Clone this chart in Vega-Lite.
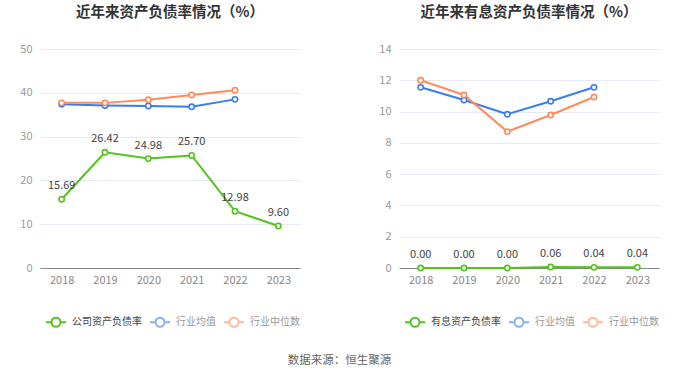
{
  "$schema": "https://vega.github.io/schema/vega-lite/v6.json",
  "padding": {"left": 19, "top": 4, "right": 5, "bottom": 5},
  "background": "white",
  "title": {"text": "数据来源：恒生聚源", "orient": "bottom", "anchor": "middle", "fontSize": 11.5, "fontWeight": "normal", "color": "#666", "font": "Noto Sans CJK SC", "offset": 24},
  "datasets": {
    "d": [
      {"panel": "A", "year": "2018", "series": "公司资产负债率", "value": 15.69},
      {"panel": "A", "year": "2019", "series": "公司资产负债率", "value": 26.42},
      {"panel": "A", "year": "2020", "series": "公司资产负债率", "value": 24.98},
      {"panel": "A", "year": "2021", "series": "公司资产负债率", "value": 25.70},
      {"panel": "A", "year": "2022", "series": "公司资产负债率", "value": 12.98},
      {"panel": "A", "year": "2023", "series": "公司资产负债率", "value": 9.60},
      {"panel": "A", "year": "2018", "series": "行业均值", "value": 37.4},
      {"panel": "A", "year": "2019", "series": "行业均值", "value": 37.1},
      {"panel": "A", "year": "2020", "series": "行业均值", "value": 37.0},
      {"panel": "A", "year": "2021", "series": "行业均值", "value": 36.8},
      {"panel": "A", "year": "2022", "series": "行业均值", "value": 38.5},
      {"panel": "A", "year": "2018", "series": "行业中位数", "value": 37.7},
      {"panel": "A", "year": "2019", "series": "行业中位数", "value": 37.7},
      {"panel": "A", "year": "2020", "series": "行业中位数", "value": 38.4},
      {"panel": "A", "year": "2021", "series": "行业中位数", "value": 39.5},
      {"panel": "A", "year": "2022", "series": "行业中位数", "value": 40.6},
      {"panel": "B", "year": "2018", "series": "有息资产负债率", "value": 0.00},
      {"panel": "B", "year": "2019", "series": "有息资产负债率", "value": 0.00},
      {"panel": "B", "year": "2020", "series": "有息资产负债率", "value": 0.00},
      {"panel": "B", "year": "2021", "series": "有息资产负债率", "value": 0.06},
      {"panel": "B", "year": "2022", "series": "有息资产负债率", "value": 0.04},
      {"panel": "B", "year": "2023", "series": "有息资产负债率", "value": 0.04},
      {"panel": "B", "year": "2018", "series": "行业均值", "value": 11.55},
      {"panel": "B", "year": "2019", "series": "行业均值", "value": 10.74},
      {"panel": "B", "year": "2020", "series": "行业均值", "value": 9.83},
      {"panel": "B", "year": "2021", "series": "行业均值", "value": 10.66},
      {"panel": "B", "year": "2022", "series": "行业均值", "value": 11.55},
      {"panel": "B", "year": "2018", "series": "行业中位数", "value": 12.0},
      {"panel": "B", "year": "2019", "series": "行业中位数", "value": 11.06},
      {"panel": "B", "year": "2020", "series": "行业中位数", "value": 8.72},
      {"panel": "B", "year": "2021", "series": "行业中位数", "value": 9.78},
      {"panel": "B", "year": "2022", "series": "行业中位数", "value": 10.93}
    ]
  },
  "spacing": 78,
  "resolve": {"scale": {"color": "independent", "y": "independent"}},
  "hconcat": [
    {
      "width": 260,
      "height": 219,
      "title": {"text": "近年来资产负债率情况（%）"},
      "data": {"name": "d"},
      "transform": [{"filter": "datum.panel === 'A'"}],
      "encoding": {
        "x": {"field": "year", "type": "ordinal", "title": null, "scale": {"padding": 0.5}, "axis": {"labelAngle": 0}},
        "y": {"field": "value", "type": "quantitative", "title": null, "scale": {"domain": [0, 50]}, "axis": {"values": [0, 10, 20, 30, 40, 50]}}
      },
      "layer": [
        {
          "mark": {"type": "line", "strokeWidth": 2, "point": {"filled": false, "fill": "white", "size": 28, "strokeWidth": 1.6, "opacity": 1}},
          "encoding": {
            "color": {"field": "series", "type": "nominal", "title": null,
              "scale": {"domain": ["公司资产负债率", "行业均值", "行业中位数"], "range": ["#52c41a", "#3a7cf2", "#ff8a5b"]},
              "legend": {"orient": "none", "legendX": 5, "legendY": 262, "direction": "horizontal",
                "encode": {"labels": {"update": {"fill": {"signal": "datum.index === 0 ? '#444' : '#999'"}}},
                           "symbols": {"update": {"opacity": {"signal": "datum.index === 0 ? 1 : 0.6"}}}}}}
          }
        },
        {
          "transform": [{"filter": "datum.series === '公司资产负债率'"}],
          "mark": {"type": "text", "dy": -13, "fontSize": 11, "color": "#444", "font": "Noto Sans CJK SC"},
          "encoding": {"text": {"field": "value", "type": "quantitative", "format": ".2f"}}
        }
      ]
    },
    {
      "width": 260,
      "height": 219,
      "title": {"text": "近年来有息资产负债率情况（%）"},
      "data": {"name": "d"},
      "transform": [{"filter": "datum.panel === 'B'"}],
      "encoding": {
        "x": {"field": "year", "type": "ordinal", "title": null, "scale": {"padding": 0.5}, "axis": {"labelAngle": 0}},
        "y": {"field": "value", "type": "quantitative", "title": null, "scale": {"domain": [0, 14]}, "axis": {"values": [0, 2, 4, 6, 8, 10, 12, 14]}}
      },
      "layer": [
        {
          "mark": {"type": "line", "strokeWidth": 2, "point": {"filled": false, "fill": "white", "size": 28, "strokeWidth": 1.6, "opacity": 1}},
          "encoding": {
            "color": {"field": "series", "type": "nominal", "title": null,
              "scale": {"domain": ["有息资产负债率", "行业均值", "行业中位数"], "range": ["#52c41a", "#3a7cf2", "#ff8a5b"]},
              "legend": {"orient": "none", "legendX": 5, "legendY": 262, "direction": "horizontal",
                "encode": {"labels": {"update": {"fill": {"signal": "datum.index === 0 ? '#444' : '#999'"}}},
                           "symbols": {"update": {"opacity": {"signal": "datum.index === 0 ? 1 : 0.6"}}}}}}
          }
        },
        {
          "transform": [{"filter": "datum.series === '有息资产负债率'"}],
          "mark": {"type": "text", "dy": -13, "fontSize": 11, "color": "#444", "font": "Noto Sans CJK SC"},
          "encoding": {"text": {"field": "value", "type": "quantitative", "format": ".2f"}}
        }
      ]
    }
  ],
  "config": {
    "font": "Noto Sans CJK SC",
    "view": {"stroke": null},
    "title": {"fontSize": 14.5, "fontWeight": "bold", "color": "#333", "anchor": "middle", "offset": 23, "font": "Noto Sans CJK SC"},
    "axisX": {"domainColor": "#888", "domainWidth": 1, "ticks": false, "grid": false, "labelColor": "#888", "labelFontSize": 11, "labelPadding": 6, "labelFont": "Noto Sans CJK SC"},
    "axisY": {"domain": false, "ticks": false, "gridColor": "#e4e9f4", "gridWidth": 1, "labelColor": "#999", "labelFontSize": 11, "labelPadding": 8, "labelFont": "Noto Sans CJK SC"},
    "legend": {
      "symbolType": "M-1,0L-0.45,0M0.45,0L1,0M-0.45,0A0.45,0.45,0,1,1,0.45,0A0.45,0.45,0,1,1,-0.45,0",
      "symbolSize": 400,
      "symbolStrokeWidth": 2,
      "symbolFillColor": "white",
      "labelFontSize": 10,
      "labelColor": "#888",
      "labelOffset": 5,
      "columnPadding": 4,
      "labelFont": "Noto Sans CJK SC",
      "padding": 0
    }
  }
}
